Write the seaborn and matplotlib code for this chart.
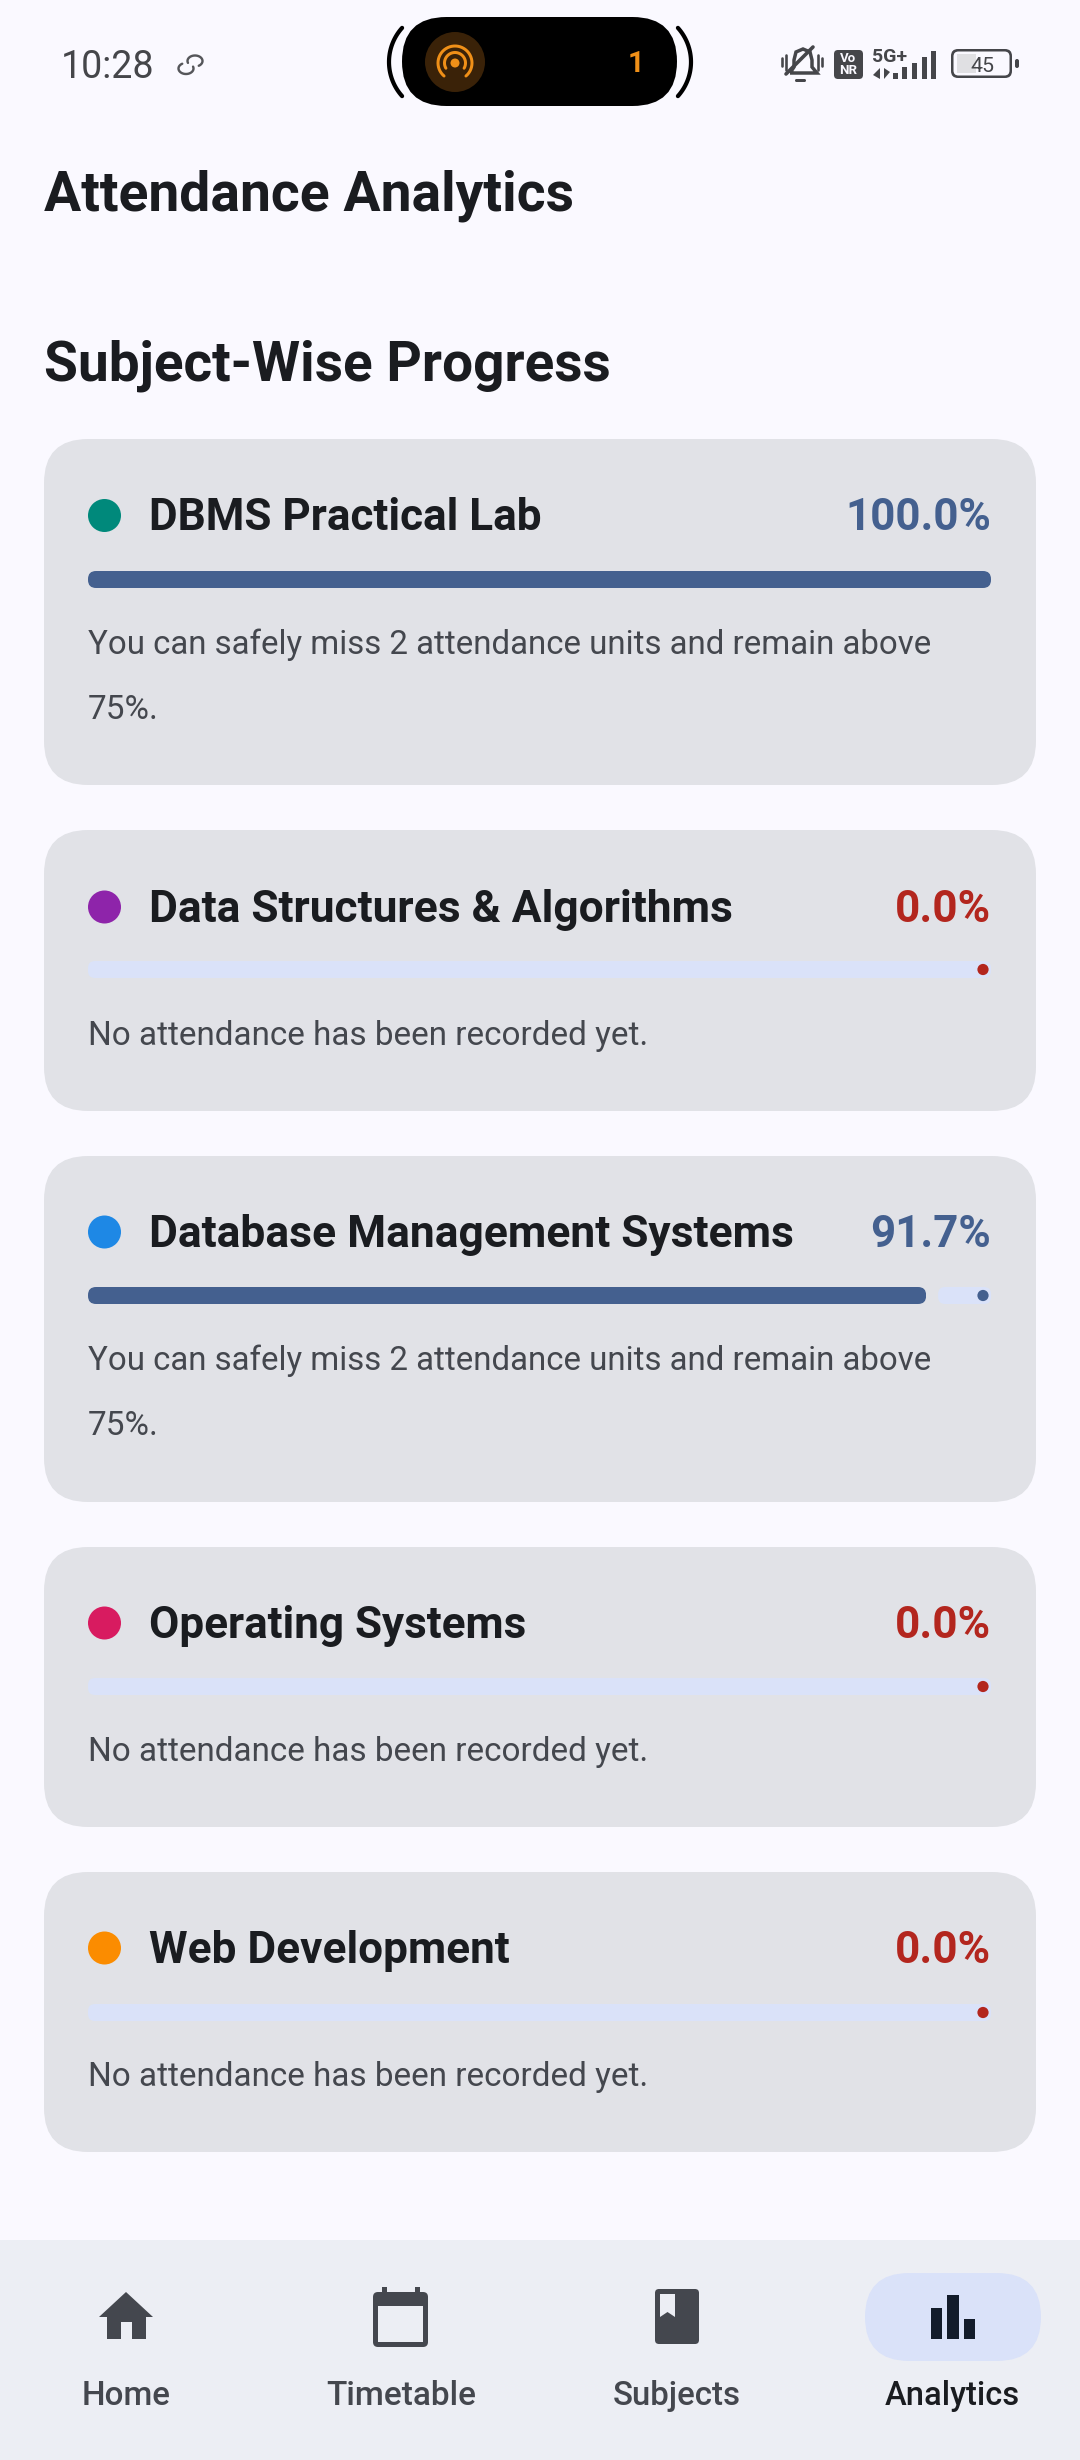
import numpy as np
import pandas as pd
import matplotlib
matplotlib.use("Agg")
import matplotlib.pyplot as plt
from matplotlib.patches import FancyBboxPatch, Circle, Rectangle, Polygon, PathPatch
from matplotlib.path import Path
from matplotlib.transforms import Affine2D
import seaborn as sns

# ---------- data ----------
subjects = ["DBMS Practical Lab", "Data Structures & Algorithms", "Database Management Systems",
            "Operating Systems", "Web Development"]
attendance = [100.0, 0.0, 91.7, 0.0, 0.0]
subject_colors = ["#00897B", "#8E24AA", "#1E88E5", "#D81B60", "#FB8C00"]
notes = [["You can safely miss 2 attendance units and remain above", "75%."],
         ["No attendance has been recorded yet."],
         ["You can safely miss 2 attendance units and remain above", "75%."],
         ["No attendance has been recorded yet."],
         ["No attendance has been recorded yet."]]
nav_labels = ["Home", "Timetable", "Subjects", "Analytics"]
page_title = "Attendance Analytics"
section_title = "Subject-Wise Progress"

# ---------- style ----------
BG = "#FAF9FF"; CARD = "#E1E2E7"; NAV = "#ECEEF4"; TRACK = "#DAE2F9"
GOOD = "#44608F"; BAD = "#B3261E"; INK = "#1A1C20"; MUTED = "#44474E"; ORANGE = "#F09018"
sns.set_theme(style="white")
plt.rcParams["font.family"] = ["Roboto", "DejaVu Sans"]

W, H = 1080, 2460
fig = plt.figure(figsize=(W / 100, H / 100), dpi=100, facecolor=BG)
ui = fig.add_axes([0, 0, 1, 1])
ui.set_xlim(0, W); ui.set_ylim(H, 0); ui.axis("off")
renderer = fig.canvas.get_renderer()


def label(x, y, s, width, color, weight="normal", ha="left", va="baseline"):
    t = ui.text(x, y, s, color=color, fontweight=weight, ha=ha, va=va, fontsize=20, zorder=6)
    t.set_fontsize(20 * width / t.get_window_extent(renderer).width)
    return t


def rbox(x0, y0, x1, y1, r, color, z=2, **kw):
    p = FancyBboxPatch((x0 + r, y0 + r), x1 - x0 - 2 * r, y1 - y0 - 2 * r,
                       boxstyle=f"round,pad={r},rounding_size={r}", fc=color, ec="none", zorder=z, **kw)
    ui.add_patch(p)
    return p


def rect(x0, y0, x1, y1, color, z=4):
    ui.add_patch(Rectangle((x0, y0), x1 - x0, y1 - y0, fc=color, ec="none", zorder=z))


def stroke(pts, color, lw, z=5, cap="round"):
    ui.plot([p[0] for p in pts], [p[1] for p in pts], color=color, lw=lw * 0.72,
            solid_capstyle=cap, zorder=z)


def arc(cx, cy, rx, ry, a0, a1, color, lw, z=5):
    a = np.radians(np.linspace(a0, a1, 40))
    stroke(list(zip(cx + rx * np.cos(a), cy + ry * np.sin(a))), color, lw, z)


# ---------- status bar ----------
label(61, 78, "10:28", 93, "#45464A")
arc(195, 61, 7.5, 5.5, 160, 420, "#55565A", 2.4)
arc(186, 68.5, 7.5, 5.5, -20, 240, "#55565A", 2.4)

rbox(402, 17, 677, 106, 44.5, "black")
arc(440, 62, 51, 51, 138, 222, "black", 4.2)
arc(640, 62, 51, 51, -42, 42, "black", 4.2)
ui.add_patch(Circle((455, 62), 30, fc="#3A2208", ec="none", zorder=4))
ui.add_patch(Circle((455, 63), 4.5, fc=ORANGE, ec="none", zorder=5))
arc(455, 63, 10.5, 10.5, 150, 390, ORANGE, 3)
arc(455, 63, 17, 17, 130, 410, ORANGE, 3)
ui.text(636, 72, "1", color=ORANGE, fontsize=21, fontweight="bold", ha="center", va="baseline", zorder=6)

# muted bell
DARK = "#45464A"
ui.add_patch(PathPatch(Path([(790, 73), (794, 67), (794, 60), (796, 52), (803, 49), (810, 52), (812, 60),
                             (812, 67), (817, 73), (790, 73)]), fc="none", ec=DARK, lw=2.5, zorder=5))
stroke([(786, 74), (813, 47)], DARK, 3.6)
rbox(795, 79, 806, 82, 1.5, DARK, z=5)
for x0, h in [(782, 4), (786, 7.5), (818, 7.5), (822, 4)]:
    stroke([(x0, 62 - h), (x0, 62 + h)], DARK, 2.6)
# VoNR, 5G+, signal
rbox(834, 50, 863, 79, 4, DARK, z=4)
ui.text(848.5, 58, "Vo", color=BG, fontsize=9.5, fontweight="bold", ha="center", va="center", zorder=6)
ui.text(848.5, 71, "NR", color=BG, fontsize=9.5, fontweight="bold", ha="center", va="center", zorder=6)
label(872, 62, "5G+", 35, DARK, "bold")
for x0, x1, top in [(893, 898, 73), (902, 907, 67), (912, 917, 63), (922, 927, 57), (931, 936, 51)]:
    rect(x0, top, x1, 79, DARK)
ui.add_patch(Polygon([(880, 68), (880, 79), (873, 75)], fc=DARK, ec="none", zorder=5))
ui.add_patch(Polygon([(884, 68), (884, 79), (890, 72)], fc=DARK, ec="none", zorder=5))
# battery
rbox(951, 49, 1012, 78, 7, DARK, z=4)
rbox(953.5, 51.5, 1009.5, 75.5, 5, BG, z=4)
rect(957, 54, 976, 73, "#E0E0E3", z=5)
label(982, 71.5, "45", 24, DARK, ha="center")
rbox(1015, 59, 1019, 68, 2, DARK, z=4)

# ---------- headings ----------
label(44, 210, page_title, 529, INK, "bold")
label(44, 381, section_title, 567, INK, "bold")

# ---------- cards ----------
card_tops = [439, 830, 1156, 1547, 1872]
card_bottoms = [785, 1111, 1502, 1827, 2152]
title_base = [530.5, 922, 1247, 1638, 1963]
note_base = [654, 1045, 1370, 1761, 2086]
bar_tops = [571, 961, 1287, 1678, 2004]
title_widths = [393, 583, 643, 376, 360]
pct_widths = [146, 96, 121, 96, 96]
note_widths = {"You can safely miss 2 attendance units and remain above": 842,
               "75%.": 71, "No attendance has been recorded yet.": 559}
TRACK_L, TRACK_R, BAR_H = 88, 991, 17
SCALE_MAX = 98.8   # the drawn fill carries the gap of the track, so 100 % runs slightly past the end

for i, top in enumerate(card_tops):
    rbox(44, top, 1036, card_bottoms[i], 44, CARD, z=1)
    ui.add_patch(Circle((104.5, title_base[i] - 15), 16.5, fc=subject_colors[i], ec="none", zorder=3))
    label(149, title_base[i], subjects[i], title_widths[i], INK, "bold")
    col = GOOD if attendance[i] > 0 else BAD
    label(991, title_base[i], f"{attendance[i]:.1f}%", pct_widths[i], col, "bold", ha="right")
    for j, line in enumerate(notes[i]):
        label(88, note_base[i] + 65 * j, line, note_widths[line], MUTED)

    # progress bar: its own axes with a percentage scale
    bar_top = bar_tops[i]
    ax = fig.add_axes([TRACK_L / W, 1 - (bar_top + BAR_H) / H, (TRACK_R - TRACK_L) / W, BAR_H / H], zorder=3)
    ax.patch.set_alpha(0)
    frame = pd.DataFrame({"subject": [subjects[i]], "attendance": [attendance[i]]})
    sns.barplot(data=frame, x="attendance", y="subject", color=col, width=1.0, saturation=1,
                linewidth=0, edgecolor="none", ax=ax, zorder=3)
    ax.set_xlim(0, SCALE_MAX); ax.set_ylim(0.5, -0.5); ax.axis("off")
    scale = (TRACK_R - TRACK_L) / SCALE_MAX
    fill_end = min(attendance[i] * scale, TRACK_R - TRACK_L)
    if attendance[i] > 0:
        clip = FancyBboxPatch((0, 0), fill_end, BAR_H, boxstyle="round,pad=0,rounding_size=8",
                              transform=Affine2D().translate(TRACK_L, H - bar_top - BAR_H))
        for b in ax.patches:
            b.set_clip_path(clip)
    # the remaining track and its stop dot
    if fill_end < TRACK_R - TRACK_L:
        start = TRACK_L + fill_end + 12 if attendance[i] > 0 else TRACK_L
        rbox(start, bar_top, TRACK_R, bar_top + BAR_H, 7, TRACK, z=2)
        ui.add_patch(Circle((983, bar_top + BAR_H / 2), 5.6, fc=col, ec="none", zorder=3))

# ---------- navigation ----------
rect(0, 2240, W, H, NAV, z=0.5)
rbox(865, 2273, 1041, 2361, 44, TRACK, z=2)
for lab, cx, w, c in zip(nav_labels, [126, 401, 677, 952.5], [89, 150, 128, 135], [MUTED, MUTED, MUTED, INK]):
    label(cx, 2405, lab, w, c, weight="medium", ha="center")
# home
ui.add_patch(Polygon([(126, 2292), (153, 2317), (146, 2317), (146, 2339), (132, 2339), (132, 2322), (121, 2322),
                      (121, 2339), (107, 2339), (107, 2317), (99, 2317)], fc=MUTED, ec="none", zorder=4))
# calendar
rbox(373, 2292, 428, 2347, 5, MUTED, z=4)
rect(382, 2287, 387, 2295, MUTED); rect(415, 2287, 420, 2295, MUTED)
rect(378, 2306, 423, 2342, NAV, z=5)
# book
rbox(655, 2289, 699, 2344, 4, MUTED, z=4)
ui.add_patch(Polygon([(660, 2294), (675, 2294), (675, 2317), (667.5, 2312), (660, 2317)], fc=NAV, ec="none", zorder=5))
# analytics
NAVY = "#131C2B"
rect(931, 2308, 942, 2339, NAVY); rect(947, 2295, 959, 2339, NAVY); rect(964, 2319, 975, 2339, NAVY)

fig.savefig("out.png", dpi=100, facecolor=BG)
